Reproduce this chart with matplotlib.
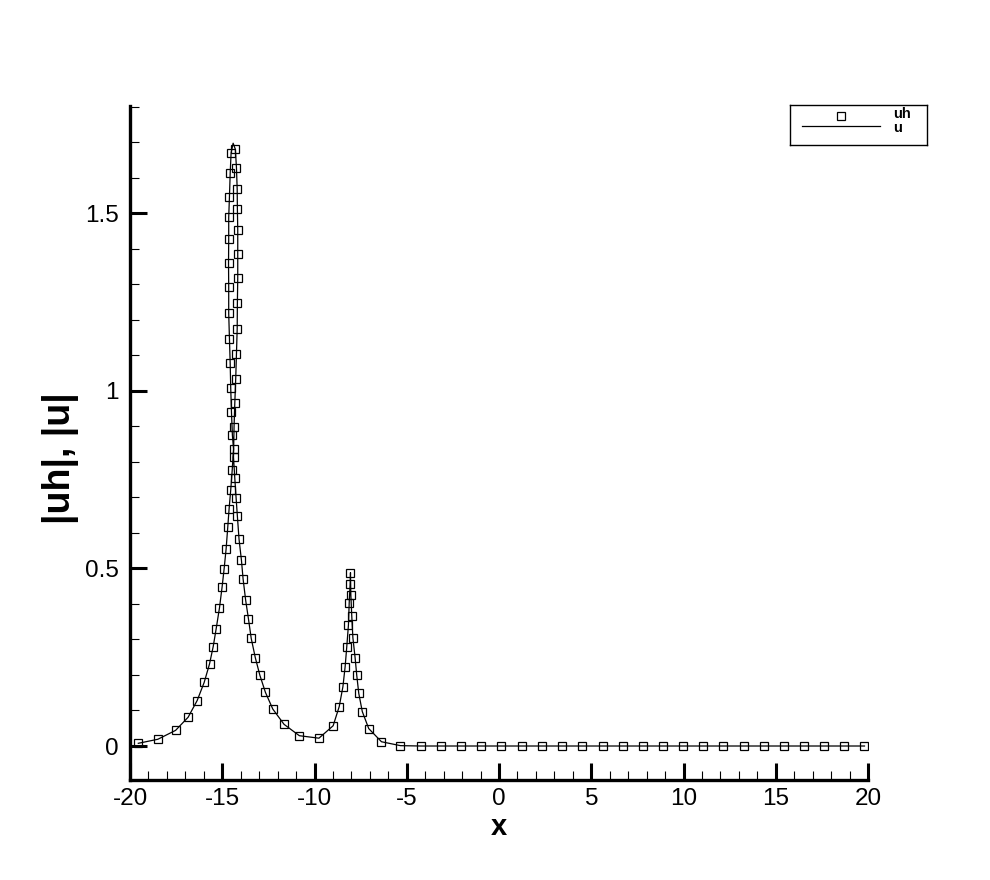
import matplotlib
matplotlib.use("Agg")
import matplotlib.pyplot as plt
from matplotlib.ticker import MultipleLocator, FixedLocator

plt.rcParams['font.family'] = ['Liberation Sans', 'DejaVu Sans']
plt.rcParams['axes.unicode_minus'] = False

# uh samples (in curve order)
x_uh = [-19.55, -18.49, -17.53, -16.85, -16.36, -15.98, -15.69, -15.49, -15.33, -15.15,
        -15.01, -14.90, -14.79, -14.70, -14.63, -14.54, -14.46, -14.39, -14.45, -14.50,
        -14.54, -14.57, -14.61, -14.65, -14.65, -14.66, -14.65, -14.65, -14.61, -14.57,
        -14.52, -14.29, -14.23, -14.19, -14.18, -14.16, -14.16, -14.16, -14.18, -14.19,
        -14.23, -14.27, -14.32, -14.36, -14.39, -14.32, -14.25, -14.18, -14.09, -13.96,
        -13.87, -13.73, -13.58, -13.43, -13.21, -12.96, -12.66, -12.26, -11.65, -10.82,
        -9.76, -8.99, -8.66, -8.46, -8.34, -8.25, -8.16, -8.12, -8.07, -8.05,
        -8.03, -7.98, -7.92, -7.80, -7.71, -7.60, -7.41, -7.06, -6.37, -5.34,
        -4.25, -3.17, -2.07, -0.95, 0.13, 1.24, 2.32, 3.41, 4.51, 5.62,
        6.70, 7.78, 8.90, 9.98, 11.08, 12.16, 13.28, 14.36, 15.44, 16.51,
        17.64, 18.72, 19.81]
y_uh = [0.0076, 0.019, 0.044, 0.081, 0.128, 0.179, 0.231, 0.280, 0.330, 0.389,
        0.447, 0.498, 0.555, 0.617, 0.667, 0.721, 0.777, 0.836, 0.875, 0.939,
        1.007, 1.077, 1.147, 1.218, 1.291, 1.359, 1.427, 1.488, 1.546, 1.612,
        1.670, 1.680, 1.628, 1.567, 1.513, 1.453, 1.386, 1.318, 1.246, 1.175,
        1.104, 1.034, 0.965, 0.899, 0.813, 0.754, 0.699, 0.647, 0.582, 0.523,
        0.470, 0.410, 0.358, 0.303, 0.249, 0.199, 0.151, 0.104, 0.061, 0.029,
        0.022, 0.057, 0.111, 0.167, 0.223, 0.280, 0.341, 0.402, 0.455, 0.488,
        0.425, 0.366, 0.305, 0.249, 0.199, 0.148, 0.097, 0.049, 0.012, 0.001,
        0.0, 0.0, 0.0, 0.0, 0.0, 0.0, 0.0, 0.0, 0.0, 0.0,
        0.0, 0.0, 0.0, 0.0, 0.0, 0.0, 0.0, 0.0, 0.0, 0.0,
        0.0, 0.0, 0.0]

# exact solution u: same path plus the tip of the first peak
peak_x = -14.41
peak_y = 1.697
peak_index = 31
x_u = x_uh[:peak_index] + [peak_x] + x_uh[peak_index:]
y_u = y_uh[:peak_index] + [peak_y] + y_uh[peak_index:]

x_major = [-20, -15, -10, -5, 0, 5, 10, 15, 20]
y_major = [0, 0.5, 1, 1.5]
y_labels = ['0', '0.5', '1', '1.5']

fig = plt.figure(figsize=(9.9, 8.8), dpi=100)
ax = fig.add_axes([130/990, 100/880, 738/990, 674/880])

ax.plot(x_u, y_u, color='black', lw=0.9, zorder=2)
ax.plot(x_uh, y_uh, linestyle='none', marker='s', markersize=5.6,
        markerfacecolor='none', markeredgecolor='black', markeredgewidth=0.9, zorder=3)

ax.set_xlim(-20, 20)
ax.set_ylim(-0.0957, 1.8018)

ax.spines['top'].set_visible(False)
ax.spines['right'].set_visible(False)
ax.spines['left'].set_linewidth(2.4)
ax.spines['bottom'].set_linewidth(2.4)

ax.xaxis.set_major_locator(FixedLocator(x_major))
ax.xaxis.set_minor_locator(MultipleLocator(1))
ax.set_xticklabels([str(v) for v in x_major])
ax.yaxis.set_major_locator(FixedLocator(y_major))
ax.yaxis.set_minor_locator(MultipleLocator(0.1))
ax.set_yticklabels(y_labels)

ax.tick_params(which='major', direction='in', length=12, width=2.2,
               labelsize=17.5, pad=8)
ax.tick_params(which='minor', direction='in', length=6.5, width=0.8)
ax.tick_params(axis='x', which='major', pad=6)

ax.set_xlabel('x', fontsize=21, fontweight='bold', labelpad=2)
ax.set_ylabel('|uh|, |u|', fontsize=27, fontweight='bold')
ax.yaxis.set_label_coords(-0.069, 0.478)

# legend box (units are pixels inside the box, y downwards)
lg = fig.add_axes([790/990, (880-145)/880, 137/990, 40/880])
lg.set_xlim(0, 137)
lg.set_ylim(40, 0)
lg.set_xticks([])
lg.set_yticks([])
for s in lg.spines.values():
    s.set_linewidth(1.0)
lg.plot([51], [11], linestyle='none', marker='s', markersize=5.4,
        markerfacecolor='none', markeredgecolor='black', markeredgewidth=0.9)
lg.plot([12, 90], [21.5, 21.5], color='black', lw=0.9)
lg.text(103, 13, 'uh', fontsize=10.5, fontweight='bold', va='baseline', ha='left')
lg.text(103, 26.5, 'u', fontsize=10.5, fontweight='bold', va='baseline', ha='left')

fig.savefig('out.png', dpi=100)
